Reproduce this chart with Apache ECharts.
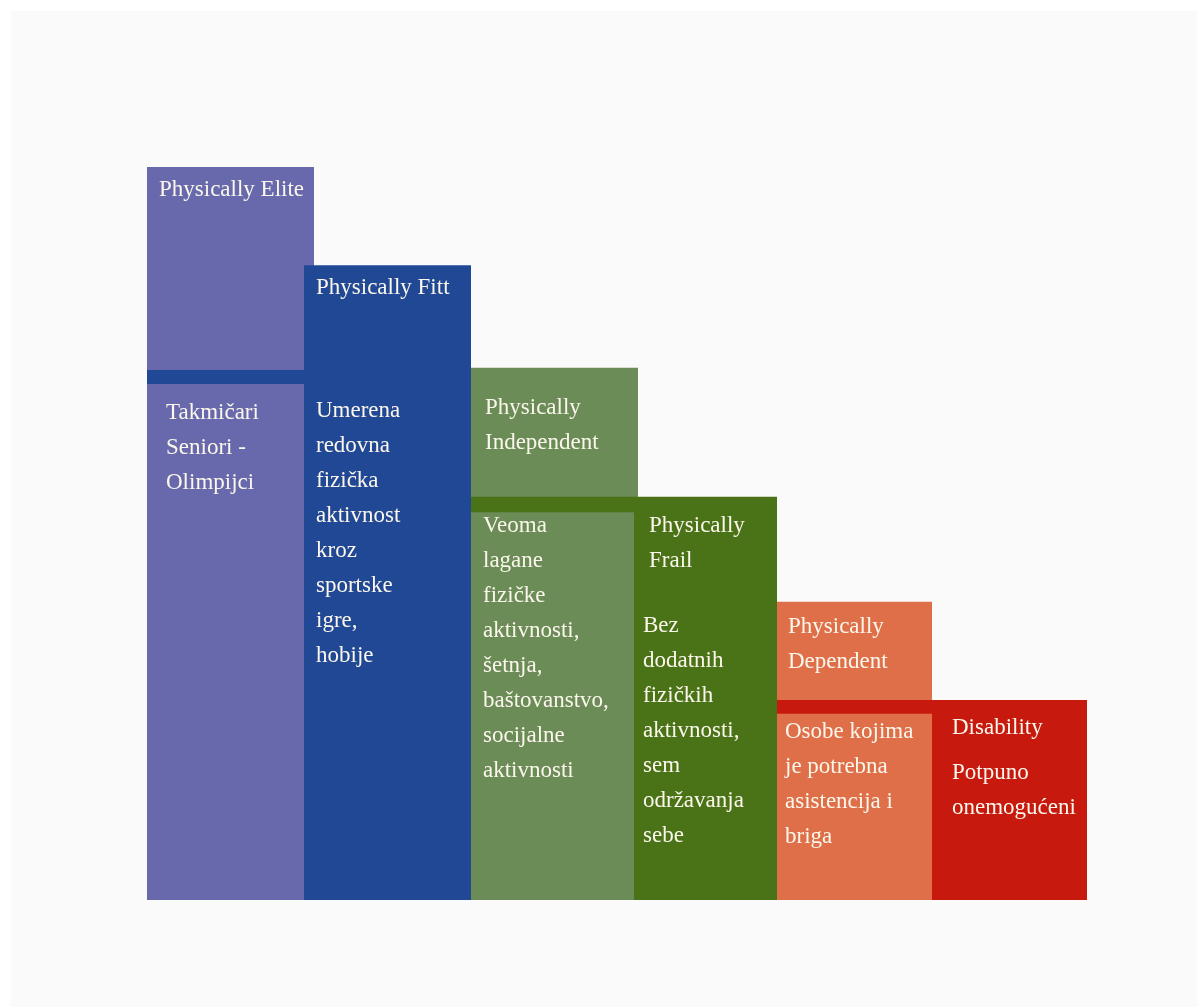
<!DOCTYPE html>
<html>
<head>
<meta charset="utf-8">
<script src="https://cdn.jsdelivr.net/npm/echarts@6/dist/echarts.min.js"></script>
<style>
  html, body { margin: 0; padding: 0; background: #ffffff; }
  #main { width: 1197px; height: 1007px; }
</style>
</head>
<body>
<div id="main"></div>
<script>
// nivoi fizičke sposobnosti (stepenasti dijagram)
const levels = ['Physically Elite', 'Physically Fitt', 'Physically\nIndependent', 'Physically\nFrail', 'Physically\nDependent', 'Disability']
const descriptions = [
  'Takmičari\nSeniori -\nOlimpijci',
  'Umerena\nredovna\nfizička\naktivnost\nkroz\nsportske\nigre,\nhobije',
  'Veoma\nlagane\nfizičke\naktivnosti,\nšetnja,\nbaštovanstvo,\nsocijalne\naktivnosti',
  'Bez\ndodatnih\nfizičkih\naktivnosti,\nsem\nodržavanja\nsebe',
  'Osobe kojima\nje potrebna\nasistencija i\nbriga',
  'Potpuno\nonemogućeni'
]
// početak i kraj stuba na x osi, visina stuba
const colStart = [0, 157, 324, 487, 630, 785]
const colEnd = [167, 324, 491, 630, 785, 940]
const colTop = [100, 86.6, 72.6, 55.0, 40.7, 27.3]
// traka sledeće boje preko stuba (gornja i donja ivica)
const bandTop = [72.3, null, 55.0, null, 27.3, null]
const bandBottom = [70.4, null, 52.9, null, 25.4, null]

const colors = ['#6769ac', '#214894', '#6b8b57', '#4a7216', '#df6f48', '#c8190e']
// pomeraji teksta u pikselima
const titleDx = [12, 12, 14, 15, 11, 20]
const titleDy = [23, 23, 40, 29, 25, 28]
const descDx = [19, 12, 12, 9, 8, 20]
const descDy = [246, 146, 158, 129, 130, 73]
const LINE = 35
const textColor = '#fbf7ec'
const fontFamily = 'Liberation Serif'

const myChart = echarts.init(document.getElementById('main'))

function renderItem (params, api) {
  const i = params.dataIndex
  const p0 = api.coord([api.value(0), api.value(2)])
  const p1 = api.coord([api.value(1), 0])
  const children = [{
    type: 'rect',
    shape: { x: p0[0], y: p0[1], width: p1[0] - p0[0], height: p1[1] - p0[1] },
    style: { fill: colors[i] }
  }]
  if (bandTop[i] != null) {
    const b0 = api.coord([colStart[i], bandTop[i]])
    const b1 = api.coord([colStart[i + 1], bandBottom[i]])
    children.push({
      type: 'rect',
      shape: { x: b0[0], y: b0[1], width: b1[0] - b0[0], height: b1[1] - b0[1] },
      style: { fill: colors[i + 1] }
    })
  }
  return { type: 'group', children: children }
}

const background = {
  type: 'rect',
  z: -10,
  silent: true,
  shape: { x: 11, y: 11, width: 1186, height: 996 },
  style: { fill: '#fafafa' }
}

const option = {
  backgroundColor: '#ffffff',
  animation: false,
  graphic: [background],
  grid: { left: 147, right: 110, top: 167, bottom: 107 },
  xAxis: { type: 'value', min: 0, max: 940, show: false },
  yAxis: { type: 'value', min: 0, max: 100, show: false },
  series: [{
    type: 'custom',
    renderItem: renderItem,
    data: colStart.map((s, i) => [s, colEnd[i], colTop[i]])
  }]
}
myChart.setOption(option)

// tekstovi se postavljaju preko koordinata stubova
function textEl (x, y, text) {
  return {
    type: 'text',
    x: x,
    y: y,
    z: 10,
    silent: true,
    style: {
      text: text,
      fill: textColor,
      fontFamily: fontFamily,
      fontSize: 23,
      lineHeight: LINE,
      verticalAlign: 'top'
    }
  }
}
const texts = [background]
levels.forEach((name, i) => {
  const p = myChart.convertToPixel({ gridIndex: 0 }, [colStart[i], colTop[i]])
  texts.push(textEl(p[0] + titleDx[i], p[1] + titleDy[i] - LINE / 2, name))
  texts.push(textEl(p[0] + descDx[i], p[1] + descDy[i] - LINE / 2, descriptions[i]))
})
myChart.setOption({ graphic: texts })
</script>
</body>
</html>
